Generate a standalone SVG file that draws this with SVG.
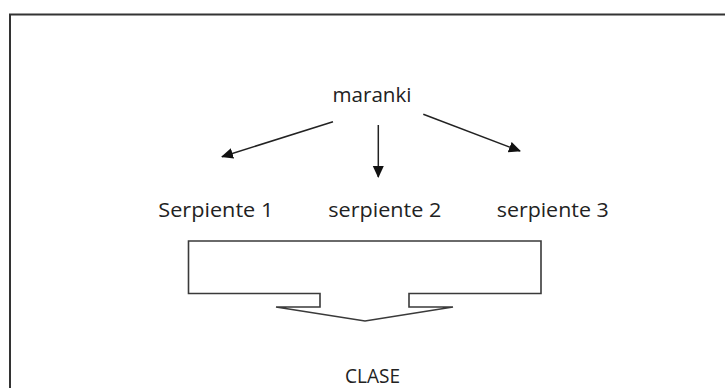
<svg xmlns="http://www.w3.org/2000/svg" width="725" height="388" viewBox="0 0 725 388">
<style>
.t{font-family:"Open Sans","Liberation Sans",sans-serif;font-size:19.5px;fill:#222}
.c{stroke:#222;stroke-width:1.5;fill:none}
</style>
<defs>
<marker id="ah" markerWidth="12" markerHeight="12" refX="11" refY="6" orient="auto" markerUnits="userSpaceOnUse">
<path d="M0,0.5 L12,6 L0,11.5 Z" fill="#111"/>
</marker>
</defs>
<rect x="0" y="0" width="725" height="388" fill="#fff"/>
<rect id="frame" x="10" y="14.5" width="730" height="390" fill="none" stroke="#333" stroke-width="2"/>
<g id="maranki"><text class="t" x="372" y="101.7" text-anchor="middle" textLength="79" lengthAdjust="spacingAndGlyphs">maranki</text></g>
<g id="serpiente1"><text class="t" x="158.3" y="216.7" textLength="115" lengthAdjust="spacingAndGlyphs">Serpiente 1</text></g>
<g id="serpiente2"><text class="t" x="328.3" y="216.7" textLength="113" lengthAdjust="spacingAndGlyphs">serpiente 2</text></g>
<g id="serpiente3"><text class="t" x="496.7" y="216.7" textLength="112" lengthAdjust="spacingAndGlyphs">serpiente 3</text></g>
<g id="arrowshape"><path d="M188.5,241 H541 V293.5 H409 V307 H453 L365,321 L276,307 H320 V293.5 H188.5 Z" fill="#fff" stroke="#3a3a3a" stroke-width="1.6" stroke-linejoin="miter"/></g>
<g id="clase"><text class="t" x="345" y="382.5" font-size="16.5" textLength="55" lengthAdjust="spacingAndGlyphs">CLASE</text></g>
<g id="connectors">
<line class="c" x1="333" y1="121.7" x2="222" y2="156.7" marker-end="url(#ah)"/>
<line class="c" x1="378.3" y1="125" x2="378.3" y2="177" marker-end="url(#ah)"/>
<line class="c" x1="423.3" y1="114.3" x2="520" y2="151" marker-end="url(#ah)"/>
</g>
</svg>
